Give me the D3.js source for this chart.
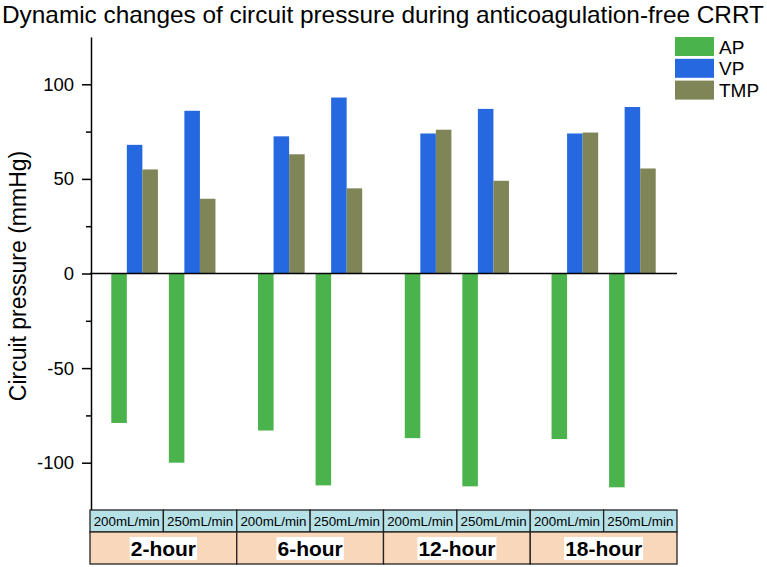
<!DOCTYPE html>
<html>
<head>
<meta charset="utf-8">
<script src="https://cdn.jsdelivr.net/npm/d3@7"></script>
<style>
	body { margin: 0; background: #fff; }
	svg { display: block; font-family: "Liberation Sans", Arial, sans-serif; }
</style>
</head>
<body>
<svg id="chart" width="767" height="567"></svg>
<script>
// hours on the bottom row, flow rates on the row above
const times = ['2-hour', '6-hour', '12-hour', '18-hour']
const rates = ['200mL/min', '250mL/min']
const series = ['AP', 'VP', 'TMP']
const colors = ['#4bb34b', '#2568e0', '#7f8556']

// order: 2h-200, 2h-250, 6h-200, 6h-250, 12h-200, 12h-250, 18h-200, 18h-250
const apValues = [-79, -100, -83, -112, -87, -112.5, -87.5, -113]
const vpValues = [68, 86, 72.5, 93, 74, 87, 74, 88]
const tmpValues = [55, 39.5, 63, 45, 76, 49, 74.5, 55.5]

const majorTicks = [-100, -50, 0, 50, 100]
const minorTicks = [-75, -25, 25, 75]

const valuesBySeries = { AP: apValues, VP: vpValues, TMP: tmpValues }

let rows = []
times.forEach((t, i) => {
	rates.forEach((r, j) => {
		series.forEach(s => {
			rows.push({ time: t, rate: r, series: s, value: valuesBySeries[s][i * 2 + j] })
		})
	})
})

const svg = d3.select('#chart')

let x0 = d3.scaleBand().domain(times).range([90, 677])
let x1 = d3.scaleBand().domain(rates).range([0, x0.bandwidth()])
	.paddingInner(0.19)
	.paddingOuter(0.37)
let x2 = d3.scaleBand().domain(series).range([0, x1.bandwidth()])

let yScale = d3.scaleLinear().domain([-125, 125]).range([510, 37])
let color = d3.scaleOrdinal().domain(series).range(colors)

// title
svg.append('text')
	.attr('x', 2)
	.attr('y', 23)
	.attr('font-size', 24)
	.attr('textLength', 762)
	.attr('lengthAdjust', 'spacingAndGlyphs')
	.text('Dynamic changes of circuit pressure during anticoagulation-free CRRT')

// bars
svg.append('g')
	.selectAll('rect')
	.data(rows)
	.enter()
	.append('rect')
	.attr('x', d => x0(d.time) + x1(d.rate) + x2(d.series))
	.attr('width', x2.bandwidth())
	.attr('y', d => yScale(Math.max(0, d.value)))
	.attr('height', d => Math.abs(yScale(d.value) - yScale(0)))
	.attr('fill', d => color(d.series))

// zero line
svg.append('line')
	.attr('x1', 90).attr('x2', 677)
	.attr('y1', yScale(0)).attr('y2', yScale(0))
	.attr('stroke', '#000')
	.attr('stroke-width', 1.5)

// left axis
let leftAxis = d3.axisLeft(yScale)
	.tickValues(majorTicks)
	.tickFormat(d => String(d))
	.tickSize(9)
	.tickPadding(8)
	.tickSizeOuter(0)
let leftAxisG = svg.append('g')
	.attr('transform', 'translate(91, 0)')
	.call(leftAxis)
leftAxisG.select('.domain').attr('stroke-width', 1.5)
leftAxisG.selectAll('.tick line').attr('stroke-width', 1.5)
leftAxisG.selectAll('.tick text')
	.attr('font-size', 18.5)
	.attr('font-family', '"Liberation Sans", Arial, sans-serif')
	.attr('fill', '#000')

let minorAxisG = svg.append('g')
	.attr('transform', 'translate(91, 0)')
	.call(d3.axisLeft(yScale).tickValues(minorTicks).tickSize(5).tickFormat(''))
minorAxisG.select('.domain').remove()
minorAxisG.selectAll('.tick line').attr('stroke-width', 1.5)

// y label
svg.append('text')
	.attr('transform', 'translate(26, 276) rotate(-90)')
	.attr('text-anchor', 'middle')
	.attr('font-size', 23)
	.text('Circuit pressure (mmHg)')

// legend
let legend = svg.append('g')
	.selectAll('g')
	.data(series)
	.enter()
	.append('g')
	.attr('transform', (d, i) => `translate(675, ${37 + i * 21.8})`)
legend.append('rect')
	.attr('width', 39)
	.attr('height', 19)
	.attr('fill', d => color(d))
legend.append('text')
	.attr('x', 44)
	.attr('y', 16.5)
	.attr('font-size', 19)
	.text(d => d)

// table under the axis
let table = svg.append('g')
let rateCells = []
times.forEach(t => rates.forEach(r => rateCells.push({ time: t, rate: r })))

table.selectAll('rect.rate')
	.data(rateCells)
	.enter()
	.append('rect')
	.attr('class', 'rate')
	.attr('x', d => x0(d.time) + (d.rate === rates[0] ? 0 : x0.bandwidth() / 2))
	.attr('y', 510)
	.attr('width', x0.bandwidth() / 2)
	.attr('height', 22)
	.attr('fill', '#b5e1e7')
	.attr('stroke', '#222')
	.attr('stroke-width', 1.3)

table.selectAll('text.rate')
	.data(rateCells)
	.enter()
	.append('text')
	.attr('class', 'rate')
	.attr('x', d => x0(d.time) + (d.rate === rates[0] ? 0.25 : 0.75) * x0.bandwidth())
	.attr('y', 526)
	.attr('text-anchor', 'middle')
	.attr('font-size', 13)
	.attr('textLength', 66)
	.attr('lengthAdjust', 'spacingAndGlyphs')
	.text(d => d.rate)

table.selectAll('rect.time')
	.data(times)
	.enter()
	.append('rect')
	.attr('class', 'time')
	.attr('x', d => x0(d))
	.attr('y', 532)
	.attr('width', x0.bandwidth())
	.attr('height', 32)
	.attr('fill', '#f9d7bb')
	.attr('stroke', '#222')
	.attr('stroke-width', 1.3)

let timeLabels = table.selectAll('g.time')
	.data(times)
	.enter()
	.append('g')
	.attr('class', 'time')
	.attr('transform', d => `translate(${x0(d) + x0.bandwidth() / 2}, 556)`)
timeLabels.append('rect')
	.attr('y', -19)
	.attr('height', 23)
	.attr('fill', '#fff')
timeLabels.append('text')
	.attr('text-anchor', 'middle')
	.attr('font-size', 21)
	.attr('font-weight', 'bold')
	.text(d => d)
timeLabels.each(function () {
	let w = d3.select(this).select('text').node().getComputedTextLength()
	d3.select(this).select('rect').attr('x', -w / 2 - 1).attr('width', w + 2)
})
</script>
</body>
</html>
